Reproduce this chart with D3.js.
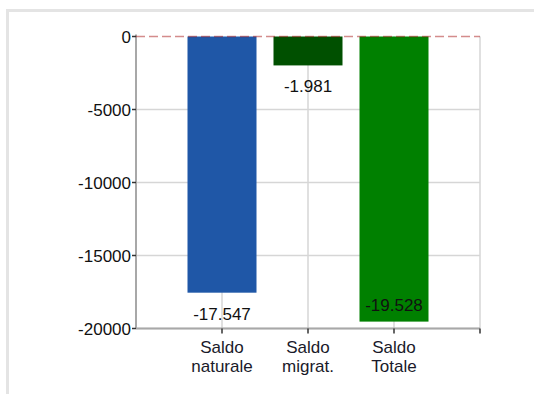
<!DOCTYPE html>
<html>
<head>
<meta charset="utf-8">
<script src="https://cdn.jsdelivr.net/npm/d3@7"></script>
<style>
  body { margin: 0; background: #fff; }
  svg { display: block; font-family: "Liberation Sans", Arial, sans-serif; }
</style>
</head>
<body>
<svg id="chart" width="534" height="394"></svg>
<script>
// dati
const categories = [["Saldo", "naturale"], ["Saldo", "migrat."], ["Saldo", "Totale"]];
const values = [-17547, -1981, -19528];
const valueLabels = ["-17.547", "-1.981", "-19.528"];
const barColors = ["#1f57a7", "#005000", "#008000"];
const yTicks = [0, -5000, -10000, -15000, -20000];

const svg = d3.select("#chart");

// cornice grigia
svg.append("path")
  .attr("d", "M7.5,394 V10.5 H534")
  .attr("fill", "none")
  .attr("stroke", "#e4e4e4")
  .attr("stroke-width", 3);

const plotL = 136, plotR = 480, plotT = 36.5, plotB = 328.5;

const xScale = d3.scaleLinear().domain([0, 4]).range([plotL, plotR]);
const yScale = d3.scaleLinear().domain([-20000, 0]).range([plotB, plotT]);
const barW = 69;

// griglia orizzontale
svg.append("g")
  .selectAll("line")
  .data(yTicks.filter(d => d !== 0))
  .enter().append("line")
  .attr("x1", plotL).attr("x2", plotR)
  .attr("y1", d => yScale(d)).attr("y2", d => yScale(d))
  .attr("stroke", "#d6d6d6")
  .attr("stroke-width", 1.5);

// griglia verticale
svg.append("g")
  .selectAll("line")
  .data([1, 2, 3, 4])
  .enter().append("line")
  .attr("x1", d => xScale(d)).attr("x2", d => xScale(d))
  .attr("y1", plotT).attr("y2", plotB)
  .attr("stroke", "#d6d6d6")
  .attr("stroke-width", 1.5);

// barre
svg.append("g")
  .selectAll("rect")
  .data(values)
  .enter().append("rect")
  .attr("x", (d, i) => xScale(i + 1) - barW / 2)
  .attr("y", yScale(0))
  .attr("width", barW)
  .attr("height", d => yScale(d) - yScale(0))
  .attr("fill", (d, i) => barColors[i]);

// assi
svg.append("line")
  .attr("x1", plotL).attr("x2", plotL)
  .attr("y1", plotT - 2).attr("y2", plotB)
  .attr("stroke", "#a8a8a8").attr("stroke-width", 2);

svg.append("line")
  .attr("x1", plotL).attr("x2", plotR)
  .attr("y1", plotB).attr("y2", plotB)
  .attr("stroke", "#a8a8a8").attr("stroke-width", 2);

const yAxis = svg.append("g");
yAxis.selectAll("line")
  .data(yTicks)
  .enter().append("line")
  .attr("x1", plotL - 4).attr("x2", plotL)
  .attr("y1", d => yScale(d)).attr("y2", d => yScale(d))
  .attr("stroke", "#333").attr("stroke-width", 1.5);
yAxis.selectAll("text")
  .data(yTicks)
  .enter().append("text")
  .attr("x", plotL - 5)
  .attr("y", d => yScale(d) + 6)
  .attr("text-anchor", "end")
  .attr("font-size", 17)
  .attr("fill", "#111")
  .text(d => d);

const xAxis = svg.append("g");
xAxis.selectAll("line")
  .data([1, 2, 3, 4])
  .enter().append("line")
  .attr("x1", d => xScale(d)).attr("x2", d => xScale(d))
  .attr("y1", plotB).attr("y2", plotB + 5)
  .attr("stroke", "#333").attr("stroke-width", 1.5);
categories.forEach((c, i) => {
  const t = xAxis.append("text")
    .attr("x", xScale(i + 1))
    .attr("y", 353)
    .attr("text-anchor", "middle")
    .attr("font-size", 17)
    .attr("fill", "#1a1a2a");
  c.forEach((s, j) => {
    t.append("tspan")
      .attr("x", xScale(i + 1))
      .attr("dy", j === 0 ? 0 : 18.5)
      .text(s);
  });
});

// linea dello zero tratteggiata
svg.append("line")
  .attr("x1", plotL).attr("x2", plotR)
  .attr("y1", yScale(0)).attr("y2", yScale(0))
  .attr("stroke", "#a00000")
  .attr("stroke-opacity", 0.45)
  .attr("stroke-width", 1.5)
  .attr("stroke-dasharray", "9,4");

// etichette dei valori
svg.append("g")
  .selectAll("text")
  .data(values)
  .enter().append("text")
  .attr("x", (d, i) => xScale(i + 1))
  .attr("y", d => {
    const y = yScale(d) + 27;
    return y > plotB ? yScale(d) - 11 : y;
  })
  .attr("text-anchor", "middle")
  .attr("font-size", 17)
  .attr("fill", "#111")
  .text((d, i) => valueLabels[i]);
</script>
</body>
</html>
